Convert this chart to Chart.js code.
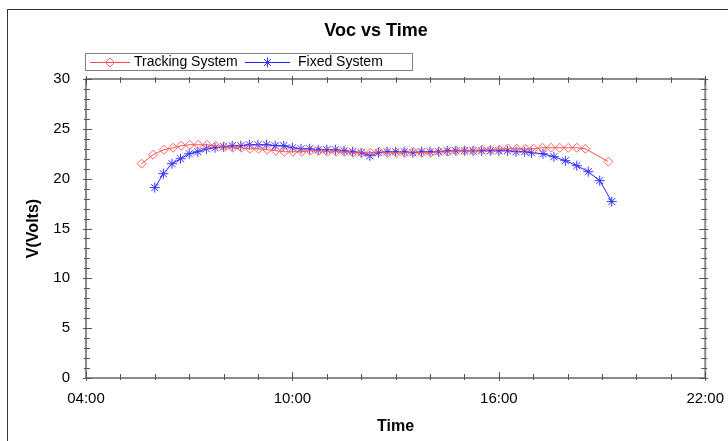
<!DOCTYPE html>
<html>
<head>
<meta charset="utf-8">
<script src="https://cdn.jsdelivr.net/npm/chart.js@4.4.0/dist/chart.umd.min.js"></script>
<style>
  html, body { margin: 0; padding: 0; background: #fff; }
</style>
</head>
<body>
<canvas id="voc-chart" width="728" height="441"></canvas>
<script>
'use strict';

//*********** chart data ***********
const xTicks = [4, 10, 16, 22];          // hours shown on the time axis
const yTicks = [0, 5, 10, 15, 20, 25, 30];

const trackingTimes = ['05:37', '05:57', '06:16', '06:32', '06:46', '07:01', '07:16', '07:31', '07:46',
  '08:01', '08:16', '08:31', '08:46', '09:01', '09:16', '09:31', '09:46', '10:01', '10:16', '10:31',
  '10:46', '11:01', '11:16', '11:31', '11:46', '12:01', '12:16', '12:31', '12:46', '13:01', '13:16',
  '13:31', '13:46', '14:01', '14:16', '14:31', '14:46', '15:01', '15:16', '15:31', '15:46', '16:01',
  '16:16', '16:31', '16:46', '17:01', '17:16', '17:31', '17:46', '18:01', '18:16', '18:31', '19:11'];
const trackingVolts = [21.5, 22.4, 22.9, 23.1, 23.3, 23.4, 23.4, 23.4, 23.3,
  23.2, 23.1, 23.1, 23.0, 23.0, 22.9, 22.8, 22.7, 22.7, 22.7, 22.8,
  22.8, 22.7, 22.7, 22.7, 22.6, 22.6, 22.6, 22.7, 22.6, 22.6, 22.6,
  22.7, 22.6, 22.6, 22.7, 22.7, 22.8, 22.8, 22.8, 22.9, 22.9, 22.9,
  23.0, 23.0, 23.0, 23.0, 23.1, 23.1, 23.1, 23.1, 23.1, 23.0, 21.7];

const fixedTimes = ['06:00', '06:15', '06:30', '06:45', '07:00', '07:15', '07:30', '07:45', '08:00',
  '08:15', '08:30', '08:45', '09:00', '09:15', '09:30', '09:45', '10:00', '10:15', '10:30', '10:45',
  '11:00', '11:15', '11:30', '11:45', '12:00', '12:15', '12:30', '12:45', '13:00', '13:15', '13:30',
  '13:45', '14:00', '14:15', '14:30', '14:45', '15:00', '15:15', '15:30', '15:45', '16:00', '16:15',
  '16:30', '16:45', '16:57', '17:17', '17:36', '17:56', '18:16', '18:36', '18:56', '19:17'];
const fixedVolts = [19.1, 20.5, 21.5, 22.0, 22.5, 22.7, 23.0, 23.1, 23.2,
  23.3, 23.3, 23.4, 23.4, 23.4, 23.3, 23.3, 23.1, 23.0, 23.0, 22.9,
  22.9, 22.9, 22.8, 22.7, 22.6, 22.3, 22.6, 22.7, 22.7, 22.7, 22.6,
  22.7, 22.7, 22.7, 22.8, 22.8, 22.8, 22.8, 22.8, 22.8, 22.8, 22.8,
  22.7, 22.7, 22.6, 22.5, 22.2, 21.8, 21.3, 20.7, 19.8, 17.7];

function toHours(t) {
  let parts = t.split(':').map(Number);
  return parts[0] + parts[1] / 60;
}

function toPoints(times, volts) {
  return times.map((t, i) => ({ x: toHours(t), y: volts[i] }));
}

const font = "'Liberation Sans', Arial, sans-serif";

// outer frame, title and the boxed legend
const decorations = {
  id: 'decorations',
  beforeDraw(chart) {
    let ctx = chart.ctx;
    ctx.save();
    ctx.fillStyle = '#fff';
    ctx.fillRect(0, 0, chart.width, chart.height);
    ctx.strokeStyle = '#333';
    ctx.lineWidth = 1;
    ctx.strokeRect(7.5, 9.5, 800, 500);
    ctx.restore();
  },
  afterDraw(chart) {
    let ctx = chart.ctx;
    ctx.save();
    ctx.fillStyle = '#000';
    ctx.font = 'bold 18px ' + font;
    ctx.textAlign = 'center';
    ctx.textBaseline = 'middle';
    ctx.fillText('Voc vs Time', 376, 31);

    // legend box
    ctx.fillStyle = '#fff';
    ctx.fillRect(85.5, 53.5, 327, 17);
    ctx.strokeStyle = '#808080';
    ctx.lineWidth = 1;
    ctx.strokeRect(85.5, 53.5, 327, 17);

    let items = [
      { ds: chart.data.datasets[0], x0: 90, x1: 130, tx: 134 },
      { ds: chart.data.datasets[1], x0: 245, x1: 290, tx: 298 }
    ];
    items.forEach(item => {
      ctx.strokeStyle = item.ds.borderColor;
      ctx.lineWidth = 1;
      ctx.beginPath();
      ctx.moveTo(item.x0, 62.5);
      ctx.lineTo(item.x1, 62.5);
      ctx.stroke();
      ctx.strokeStyle = item.ds.pointBorderColor;
      ctx.fillStyle = 'rgba(0,0,0,0)';
      Chart.helpers.drawPoint(ctx, {
        pointStyle: item.ds.pointStyle,
        radius: item.ds.pointRadius,
        borderWidth: item.ds.pointBorderWidth,
        rotation: 0
      }, (item.x0 + item.x1) / 2, 62.5);
      ctx.fillStyle = '#000';
      ctx.font = '14px ' + font;
      ctx.textAlign = 'left';
      ctx.fillText(item.ds.label, item.tx, 62);
    });
    ctx.restore();
  }
};

// gray box round the plot with inward ticks on all four sides
const frameTicks = {
  id: 'frameTicks',
  beforeDatasetsDraw(chart) {
    let ctx = chart.ctx;
    let a = chart.chartArea;
    let xs = chart.scales.x;
    let ys = chart.scales.y;
    ctx.save();
    ctx.strokeStyle = '#8c8c8c';
    ctx.lineWidth = 2;
    ctx.strokeRect(a.left, a.top, a.right - a.left, a.bottom - a.top);

    ctx.strokeStyle = '#555';
    ctx.lineWidth = 1;
    ctx.beginPath();
    for (let h = xTicks[0]; h <= xTicks[xTicks.length - 1]; h++) {
      let px = Math.round(xs.getPixelForValue(h)) + 0.5;
      let major = xTicks.includes(h);
      let inLen = major ? 6 : 4;
      let outLen = major ? 3 : 2;
      ctx.moveTo(px, a.bottom + outLen);
      ctx.lineTo(px, a.bottom - inLen);
      ctx.moveTo(px, a.top - outLen);
      ctx.lineTo(px, a.top + inLen);
    }
    for (let v = yTicks[0]; v <= yTicks[yTicks.length - 1]; v++) {
      let py = Math.round(ys.getPixelForValue(v)) + 0.5;
      let major = yTicks.includes(v);
      let inLen = major ? 6 : 4;
      let outLen = major ? 3 : 2;
      ctx.moveTo(a.left - outLen, py);
      ctx.lineTo(a.left + inLen, py);
      ctx.moveTo(a.right + outLen, py);
      ctx.lineTo(a.right - inLen, py);
    }
    ctx.stroke();
    ctx.restore();
  }
};

let myChartObj = {
  type: 'line',
  data: {
    datasets: [{
      label: 'Tracking System',
      data: toPoints(trackingTimes, trackingVolts),
      borderColor: '#ff4d4d',
      backgroundColor: 'rgba(0,0,0,0)',
      borderWidth: 1,
      pointStyle: 'rectRot',
      pointRadius: 4.5,
      pointBorderWidth: 1,
      pointBorderColor: '#ff6666',
      pointBackgroundColor: 'rgba(0,0,0,0)',
      tension: 0
    }, {
      label: 'Fixed System',
      data: toPoints(fixedTimes, fixedVolts),
      borderColor: '#2020ff',
      backgroundColor: 'rgba(0,0,0,0)',
      borderWidth: 1,
      pointStyle: 'star',
      pointRadius: 5,
      pointBorderWidth: 1,
      pointBorderColor: '#3333ff',
      pointBackgroundColor: 'rgba(0,0,0,0)',
      tension: 0
    }]
  },
  options: {
    responsive: false,
    animation: false,
    layout: { padding: { left: 0, top: 79, right: 11, bottom: 0 } },
    plugins: {
      legend: { display: false },
      title: { display: false },
      tooltip: { enabled: false }
    },
    scales: {
      x: {
        type: 'linear',
        min: xTicks[0],
        max: xTicks[xTicks.length - 1],
        afterBuildTicks: scale => { scale.ticks = xTicks.map(v => ({ value: v })); },
        afterFit: scale => { scale.height = 63; },
        grid: { display: false },
        border: { display: false },
        ticks: {
          color: '#000',
          font: { family: font, size: 15 },
          padding: 4,
          maxRotation: 0,
          callback: value => String(value).padStart(2, '0') + ':00'
        },
        title: {
          display: true,
          text: 'Time',
          color: '#000',
          font: { family: font, size: 16, weight: 'bold' },
          padding: { top: 5, bottom: 5 }
        }
      },
      y: {
        min: yTicks[0],
        max: yTicks[yTicks.length - 1],
        afterBuildTicks: scale => { scale.ticks = yTicks.map(v => ({ value: v })); },
        afterFit: scale => { scale.width = 86; },
        grid: { display: false },
        border: { display: false },
        ticks: {
          color: '#000',
          font: { family: font, size: 15 },
          padding: 8
        },
        title: {
          display: true,
          text: 'V(Volts)',
          color: '#000',
          font: { family: font, size: 16, weight: 'bold' },
          padding: { top: 24, bottom: 24 }
        }
      }
    }
  },
  plugins: [decorations, frameTicks]
};

new Chart(document.getElementById('voc-chart'), myChartObj);
</script>
</body>
</html>
